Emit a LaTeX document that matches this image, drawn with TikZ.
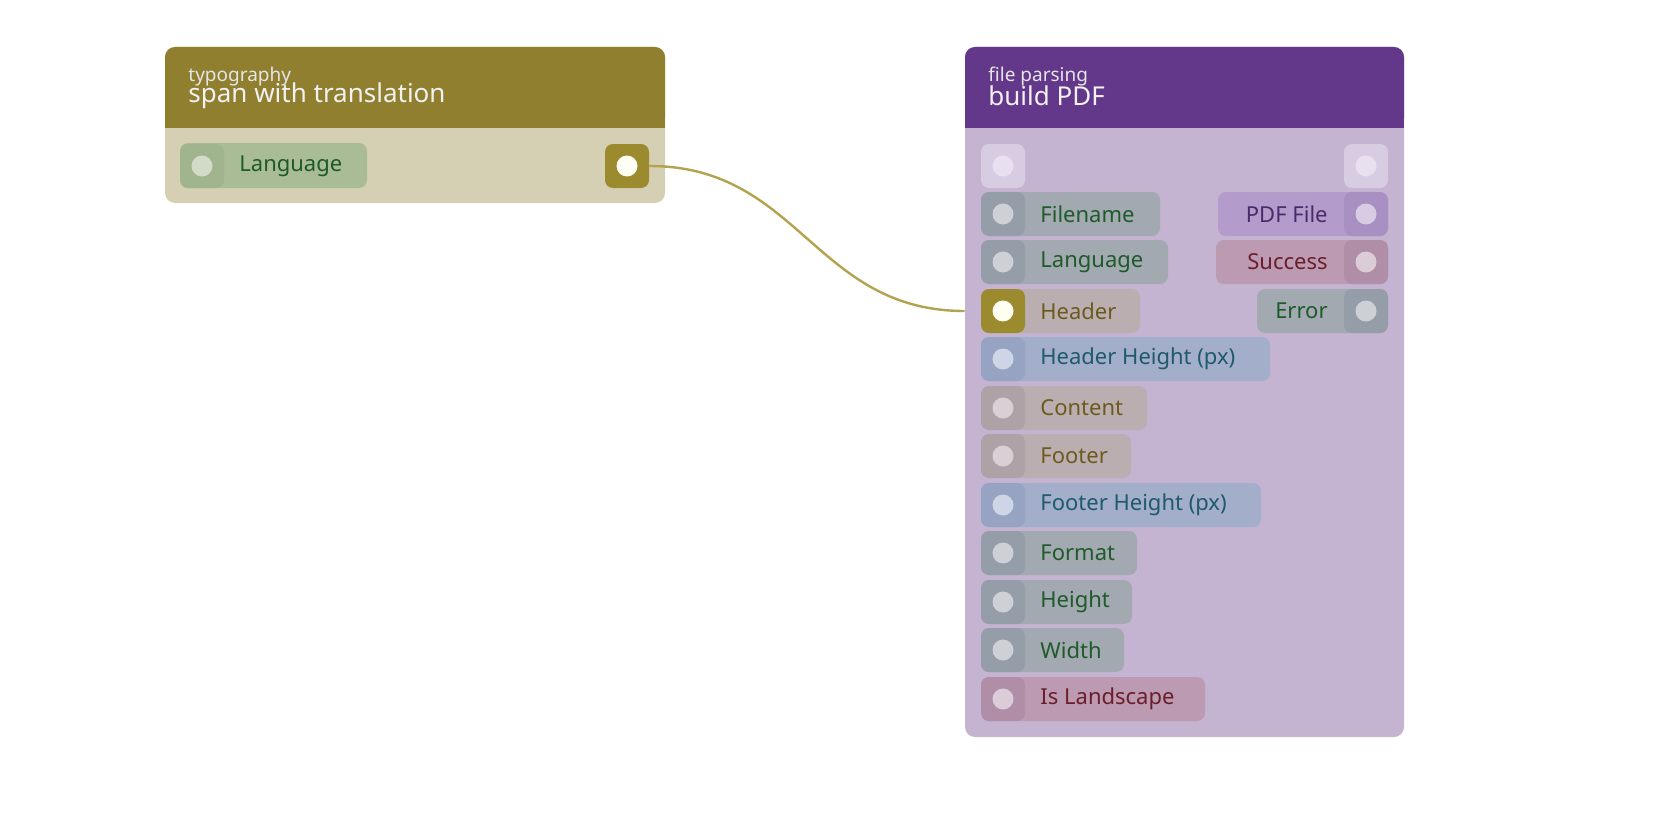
\documentclass[tikz,border=0pt]{standalone}
\usepackage{fontspec}
\setmainfont{Noto Sans}
\definecolor{olivehead}{HTML}{8F7F2F}
\definecolor{olivebody}{HTML}{D5D0B4}
\definecolor{olivedot}{HTML}{9B8A2E}
\definecolor{purplehead}{HTML}{63378A}
\definecolor{purplebody}{HTML}{C4B4D2}
\definecolor{wire}{HTML}{B3A24E}
\definecolor{greypill}{HTML}{A2A9B1}\definecolor{greybox}{HTML}{959EA8}\definecolor{greydot}{HTML}{CDD1D6}
\definecolor{tanpill}{HTML}{BBAEB0}\definecolor{tanbox}{HTML}{AFA2A6}\definecolor{tandot}{HTML}{D9D0D5}
\definecolor{bluepill}{HTML}{A2AECA}\definecolor{bluebox}{HTML}{96A3C2}\definecolor{bluedot}{HTML}{CDD5E6}
\definecolor{rosepill}{HTML}{BC9AB2}\definecolor{rosebox}{HTML}{B18EA7}\definecolor{rosedot}{HTML}{DCCCD8}
\definecolor{lilacpill}{HTML}{B39CCB}\definecolor{lilacbox}{HTML}{A890C3}\definecolor{lilacdot}{HTML}{D6CCE3}
\definecolor{sagepill}{HTML}{A9BC96}\definecolor{sagebox}{HTML}{A0B48E}\definecolor{sagedot}{HTML}{D2DBC8}
\definecolor{greentext}{HTML}{1E5A2A}\definecolor{browntext}{HTML}{6B5A1E}
\definecolor{tealtext}{HTML}{1F5A6A}\definecolor{redtext}{HTML}{6A1E2A}\definecolor{violettext}{HTML}{4A2A6A}

\tikzset{
	port box/.style={rounded corners=4pt, minimum size=22pt, inner sep=0pt},
	port dot/.style={circle, minimum size=10.5pt, inner sep=0pt},
	port label/.style={inner sep=0pt, font=\fontsize{11}{13}\selectfont},
	node title/.style={anchor=west, inner sep=0pt, text=white!90!gray, font=\fontsize{13}{15}\selectfont},
	node kind/.style={anchor=west, inner sep=0pt, text=white!80!gray, font=\fontsize{9.5}{11}\selectfont},
}
% #1 name, #2 y, #3 right end, #4 pill, #5 box, #6 dot, #7 text colour, #8 label
\newcommand{\inport}[8]{%
	\fill[#4, rounded corners=4pt] (981,#2-22) rectangle (#3,#2+22);
	\node[port box, fill=#5] (#1) at (1003,#2) {};
	\node[port dot, fill=#6] at (#1) {};
	\node[port label, anchor=west, text=#7] at (1040,#2) {#8};
}
\newcommand{\outport}[8]{%
	\fill[#4, rounded corners=4pt] (#3,#2-22) rectangle (1388,#2+22);
	\node[port box, fill=#5] (#1) at (1366,#2) {};
	\node[port dot, fill=#6] at (#1) {};
	\node[port label, anchor=east, text=#7] at (1328,#2) {#8};
}

\begin{document}
\begin{tikzpicture}[x=0.5pt,y=0.5pt,yscale=-1]
	\useasboundingbox (0,0) rectangle (1680,840);
	
	% typography node
	\fill[olivebody, rounded corners=5pt] (165,47) rectangle (665,203);
	\fill[olivehead, rounded corners=5pt] (165,47) rectangle (665,128);
	\fill[olivehead] (165,110) rectangle (665,128);
	\node[node kind] (typo-kind) at (188,77) {typography};
	\node[node title] (typo-title) at (188,96) {span with translation};
	\fill[sagepill, rounded corners=4pt] (180,143) rectangle (367,188);
	\node[port box, fill=sagebox] (lang-in) at (202,166) {};
	\node[port dot, fill=sagedot] at (lang-in) {};
	\node[port label, anchor=west, text=greentext] at (239,166) {Language};
	\node[port box, fill=olivedot] (lang-out) at (627,166) {};
	\node[port dot, fill=white!95!yellow] at (lang-out) {};
	
	% build PDF node
	\fill[purplebody, rounded corners=5pt] (965,47) rectangle (1404,737);
	\fill[purplehead, rounded corners=5pt] (965,47) rectangle (1404,128);
	\fill[purplehead] (965,110) rectangle (1404,128);
	\node[node kind] (pdf-kind) at (988,77) {file parsing};
	\node[node title] (pdf-title) at (988,96) {build PDF};
	
	\node[port box, fill={rgb,255:red,216;green,204;blue,227}] (exec-in) at (1003,166) {};
	\node[port dot, fill={rgb,255:red,232;green,224;blue,239}] at (exec-in) {};
	\node[port box, fill={rgb,255:red,216;green,204;blue,227}] (exec-out) at (1366,166) {};
	\node[port dot, fill={rgb,255:red,232;green,224;blue,239}] at (exec-out) {};
	
	\inport{fname-in}{214}{1160}{greypill}{greybox}{greydot}{greentext}{Filename}
	\inport{plang-in}{262}{1168}{greypill}{greybox}{greydot}{greentext}{Language}
	\inport{hdr-in}{311}{1140}{tanpill}{olivedot}{white!95!yellow}{browntext}{Header}
	\inport{hdrh-in}{359}{1270}{bluepill}{bluebox}{bluedot}{tealtext}{Header Height (px)}
	\inport{cont-in}{408}{1147}{tanpill}{tanbox}{tandot}{browntext}{Content}
	\inport{foot-in}{456}{1131}{tanpill}{tanbox}{tandot}{browntext}{Footer}
	\inport{footh-in}{505}{1261}{bluepill}{bluebox}{bluedot}{tealtext}{Footer Height (px)}
	\inport{fmt-in}{553}{1137}{greypill}{greybox}{greydot}{greentext}{Format}
	\inport{hgt-in}{602}{1132}{greypill}{greybox}{greydot}{greentext}{Height}
	\inport{wid-in}{650}{1124}{greypill}{greybox}{greydot}{greentext}{Width}
	\inport{land-in}{699}{1205}{rosepill}{rosebox}{rosedot}{redtext}{Is Landscape}
	
	\outport{file-out}{214}{1218}{lilacpill}{lilacbox}{lilacdot}{violettext}{PDF File}
	\outport{ok-out}{262}{1216}{rosepill}{rosebox}{rosedot}{redtext}{Success}
	\outport{err-out}{311}{1257}{greypill}{greybox}{greydot}{greentext}{Error}
	
	% wire
	\draw[wire, line width=1.2pt] (lang-out.east) .. controls +(150,0) and +(-150,0) .. ([xshift=-8pt]hdr-in.west);
\end{tikzpicture}
\end{document}
